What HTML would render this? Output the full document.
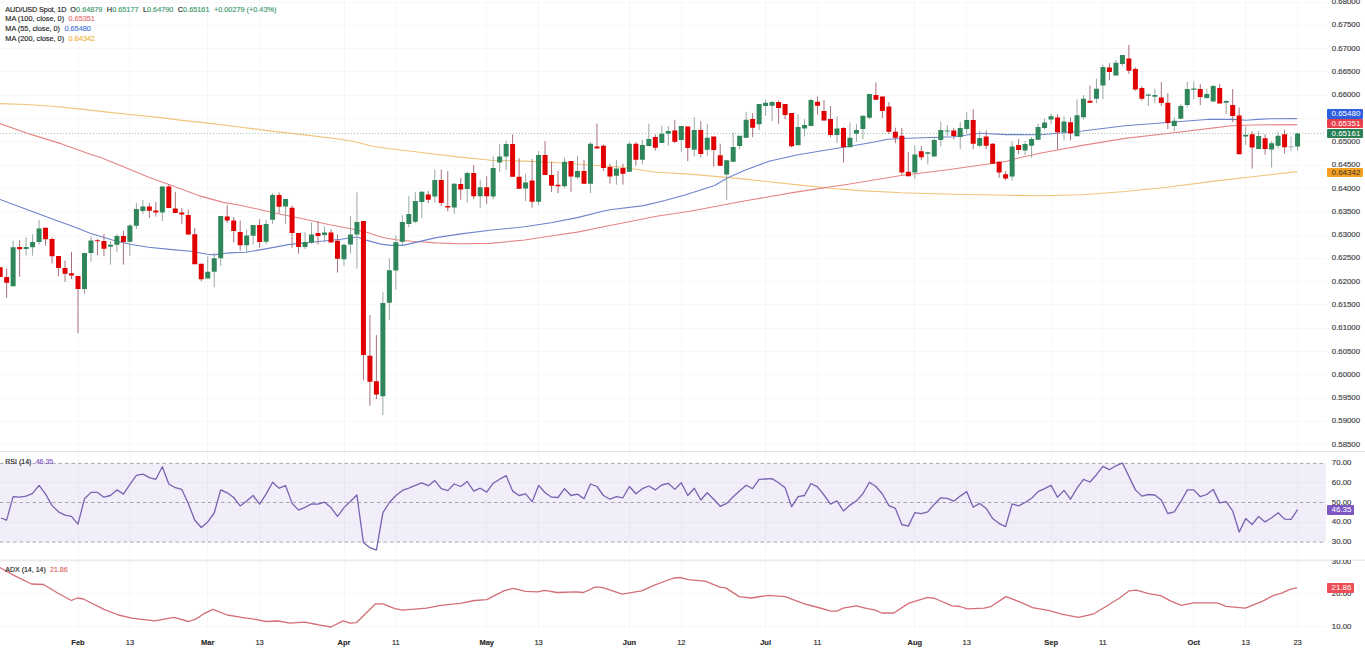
<!DOCTYPE html>
<html><head><meta charset="utf-8"><style>
html,body{margin:0;padding:0;background:#fff;width:1365px;height:649px;overflow:hidden;}
body{position:relative;font-family:'Liberation Sans',sans-serif;}
.pl{position:absolute;left:1331.8px;font-size:7.8px;line-height:10px;color:#454545;-webkit-text-stroke:0.18px #454545;white-space:nowrap;}
.clip{overflow:hidden;}
.bd{position:absolute;left:1327px;height:9.5px;font-size:8px;line-height:9.5px;text-align:left;padding-left:4.5px;box-sizing:border-box;border-radius:1px;white-space:nowrap;}
.tl{position:absolute;top:637.5px;width:40px;text-align:center;font-size:7.5px;line-height:10px;color:#2a2a2a;-webkit-text-stroke:0.15px #2a2a2a;}
.lg{position:absolute;left:5.3px;font-size:7.3px;line-height:9px;color:#1e1e1e;-webkit-text-stroke:0.15px currentColor;white-space:nowrap;}
.lg span{margin-left:2.4px;}
</style></head><body>
<svg width="1365" height="649" viewBox="0 0 1365 649" style="position:absolute;left:0;top:0">
<path d="M0 444.6H1326M0 421.3H1326M0 398.0H1326M0 374.7H1326M0 351.4H1326M0 328.1H1326M0 304.8H1326M0 281.5H1326M0 258.3H1326M0 235.0H1326M0 211.7H1326M0 188.4H1326M0 165.1H1326M0 141.8H1326M0 118.5H1326M0 95.2H1326M0 71.9H1326M0 48.6H1326M0 25.3H1326M0 2.0H1326M78.0 0V451M78.0 452V558M78.0 560V631M129.9 0V451M129.9 452V558M129.9 560V631M207.7 0V451M207.7 452V558M207.7 560V631M259.6 0V451M259.6 452V558M259.6 560V631M344.0 0V451M344.0 452V558M344.0 560V631M395.9 0V451M395.9 452V558M395.9 560V631M486.7 0V451M486.7 452V558M486.7 560V631M538.6 0V451M538.6 452V558M538.6 560V631M629.4 0V451M629.4 452V558M629.4 560V631M681.3 0V451M681.3 452V558M681.3 560V631M765.6 0V451M765.6 452V558M765.6 560V631M817.5 0V451M817.5 452V558M817.5 560V631M914.8 0V451M914.8 452V558M914.8 560V631M966.7 0V451M966.7 452V558M966.7 560V631M1051.1 0V451M1051.1 452V558M1051.1 560V631M1102.9 0V451M1102.9 452V558M1102.9 560V631M1193.8 0V451M1193.8 452V558M1193.8 560V631M1245.7 0V451M1245.7 452V558M1245.7 560V631M1297.6 0V451M1297.6 452V558M1297.6 560V631M0 561.1H1326M0 593.7H1326M0 626.3H1326M0 482.8H1326M0 522.2H1326" stroke="#f7f7f8" stroke-width="1" fill="none" shape-rendering="crispEdges"/>
<path d="M0 133.5H1326" stroke="#9cc4b0" stroke-width="1" stroke-dasharray="1 2"/>
<path d="M0.0 103.6 L26.4 104.5 L52.8 106.2 L79.2 108.9 L105.5 111.9 L131.9 114.8 L158.3 117.4 L180.0 120.1 L203.7 122.6 L237.4 126.8 L271.1 131.1 L304.8 134.9 L338.5 139.0 L355.3 141.7 L372.2 146.2 L390.0 148.8 L423.7 152.7 L457.4 156.9 L491.1 160.3 L524.8 161.1 L558.5 162.8 L592.2 165.3 L620.0 167.0 L656.5 172.2 L690.0 174.1 L742.7 178.9 L795.5 184.6 L830.0 188.2 L860.0 190.6 L901.0 192.8 L953.7 194.3 L1006.5 195.2 L1040.0 195.8 L1082.5 194.7 L1125.0 191.5 L1167.5 187.3 L1210.0 181.6 L1252.5 176.7 L1297.0 171.6" stroke="#f0c47a" stroke-width="1.1" fill="none" stroke-linejoin="round" opacity="1"/>
<path d="M0.0 123.6 L30.8 134.4 L61.7 143.9 L92.5 155.0 L100.0 157.2 L124.7 167.3 L149.3 177.4 L169.0 184.5 L198.6 195.6 L223.3 202.4 L240.0 205.3 L254.7 208.5 L279.3 214.0 L304.0 219.0 L328.6 224.5 L353.3 229.2 L366.0 232.1 L380.8 237.0 L395.6 239.7 L411.6 241.3 L436.3 242.9 L461.0 243.8 L490.0 243.4 L524.6 240.0 L551.0 236.0 L577.3 232.1 L603.7 226.8 L630.1 221.5 L656.5 216.3 L690.0 211.3 L742.7 201.3 L795.5 192.1 L848.2 184.2 L901.0 175.5 L947.9 169.7 L990.0 163.8 L1006.9 161.3 L1015.3 158.7 L1040.0 153.3 L1082.5 145.4 L1125.0 138.4 L1167.5 133.5 L1210.0 128.4 L1231.2 125.7 L1252.5 125.0 L1297.0 124.6" stroke="#e68585" stroke-width="1.1" fill="none" stroke-linejoin="round" opacity="1"/>
<path d="M0.0 199.5 L26.2 209.2 L52.4 218.9 L78.6 228.6 L90.0 233.2 L101.7 236.7 L113.4 240.2 L129.9 244.3 L148.6 247.2 L172.1 249.6 L190.8 251.3 L207.2 254.3 L214.3 254.9 L222.5 253.5 L230.0 252.9 L246.0 252.3 L267.0 248.6 L288.2 244.6 L316.3 241.8 L341.0 239.3 L357.0 237.0 L366.0 240.1 L380.8 244.1 L390.7 245.4 L403.0 245.4 L417.8 241.9 L436.3 237.6 L461.0 233.9 L490.0 230.2 L524.6 226.8 L551.0 222.8 L577.3 217.6 L603.7 211.0 L610.0 209.8 L643.7 205.6 L665.0 200.5 L685.8 194.7 L714.5 185.4 L727.9 177.8 L744.8 170.2 L769.1 161.2 L795.5 155.2 L821.9 150.7 L848.2 146.5 L874.6 142.0 L887.8 139.3 L901.0 138.5 L953.7 136.7 L980.1 133.3 L1006.5 134.6 L1040.0 134.8 L1082.5 131.0 L1125.0 125.7 L1167.5 122.5 L1210.0 119.3 L1232.2 119.4 L1246.3 120.3 L1258.0 119.4 L1270.9 118.8 L1297.0 118.6" stroke="#6d84cc" stroke-width="1.1" fill="none" stroke-linejoin="round" opacity="1"/>
<path d="M1291.07 136.4V151.4" stroke="#b4bcc6" stroke-width="1"/><path d="M1288.57 146.2h5v1.2h-5z" fill="#a9b4c0"/>
<path d="M0.16 267.2V276.9M6.64 268.3V297.9M19.62 240.2V276.9M45.56 227.7V245.5M52.05 237.4V263.5M58.54 256.0V276.2M65.03 260.5V281.7M71.51 251.9V279.0M78.00 276.0V333.2M97.46 239.1V255.2M103.95 234.1V256.2M123.41 230.7V264.6M149.36 203.1V218.1M155.84 202.1V216.5M168.82 184.0V208.1M175.31 192.0V213.1M181.79 208.1V223.7M188.28 209.7V234.5M194.77 228.1V264.2M201.25 263.8V281.2M227.20 205.1V223.1M233.69 217.1V242.5M240.18 220.5V250.6M259.64 219.1V247.8M279.10 192.4V213.1M292.07 205.7V247.7M298.56 233.1V253.7M318.02 221.1V244.5M330.99 229.1V242.5M337.48 234.5V272.6M363.43 221.1V380.2M369.92 315.0V405.8M376.40 335.1V399.2M428.30 191.1V203.1M441.27 169.6V205.7M447.76 171.0V211.1M460.73 178.1V199.7M473.71 165.0V199.1M486.68 176.1V203.8M512.63 134.4V176.7M519.12 158.1V188.8M532.09 159.1V207.8M545.06 141.1V175.1M551.55 161.7V192.2M558.04 171.1V193.2M571.01 161.1V191.8M583.99 160.1V183.8M596.96 123.6V148.5M603.45 144.5V171.1M609.93 163.7V183.8M622.91 163.7V184.6M635.88 142.1V165.7M655.34 134.5V150.5M674.80 120.1V143.1M687.78 126.5V161.2M700.75 121.1V157.2M713.73 136.5V166.6M720.21 143.7V165.8M752.65 113.1V137.1M778.60 100.5V123.7M785.08 104.1V119.1M791.57 113.1V147.2M817.52 96.5V114.5M824.00 100.1V120.5M830.49 106.1V137.1M843.47 127.1V162.6M875.90 82.4V99.7M882.39 96.5V118.1M888.88 102.1V134.1M895.36 127.7V143.1M901.85 128.1V175.2M908.34 152.2V176.2M921.31 146.2V160.2M953.75 128.1V139.4M973.21 109.1V149.1M986.18 130.5V149.1M992.67 143.1V163.8M999.15 161.2V177.8M1005.64 171.2V180.2M1018.62 139.1V154.1M1057.54 114.2V149.6M1070.51 117.6V140.2M1089.97 85.5V102.7M1109.43 63.1V80.1M1128.89 45.0V74.1M1135.38 67.5V90.7M1141.87 86.1V100.7M1161.33 82.0V106.1M1167.82 93.1V129.1M1200.25 84.0V105.1M1219.71 84.0V103.5M1232.69 89.0V122.1M1239.17 107.8V154.2M1252.15 131.4V168.7M1265.12 134.3V154.7M1284.58 129.7V153.5" stroke="#a8707c" stroke-width="1" fill="none"/>
<path d="M13.13 240.8V286.2M26.10 237.0V255.6M32.59 234.3V255.6M39.08 220.0V244.5M84.49 252.9V294.0M90.97 236.2V261.6M110.44 241.1V264.6M116.92 234.1V252.2M129.90 224.1V255.8M136.38 203.1V229.1M142.87 200.1V214.1M162.33 186.4V221.1M207.74 256.2V278.6M214.23 252.6V287.2M220.71 216.1V265.8M246.66 229.7V252.6M253.15 225.1V244.5M266.12 219.7V244.5M272.61 193.0V224.1M285.58 199.1V224.1M305.05 232.1V249.1M311.53 222.5V243.7M324.51 226.5V242.5M343.97 243.7V265.8M350.45 216.1V253.7M356.94 192.4V268.6M382.89 292.0V415.2M389.38 258.3V320.3M395.86 235.4V289.8M402.35 215.1V245.2M408.84 196.1V227.2M415.32 192.1V223.1M421.81 191.1V218.1M434.79 169.6V202.5M454.25 183.1V214.1M467.22 171.6V202.5M480.19 179.7V208.2M493.17 156.5V199.2M499.66 144.1V171.7M506.14 140.5V170.1M525.60 173.7V201.2M538.58 151.1V205.2M564.53 157.7V188.2M577.50 155.7V179.2M590.47 142.1V193.2M616.42 160.1V184.6M629.39 141.7V171.7M642.37 139.7V164.5M648.86 123.6V146.5M661.83 125.7V143.1M668.32 125.9V145.7M681.29 126.1V151.7M694.26 117.1V156.6M707.24 123.7V155.8M726.70 159.8V200.2M733.19 132.5V161.8M739.67 135.7V149.1M746.16 111.7V137.7M759.13 104.0V130.1M765.62 99.7V115.7M772.11 101.1V121.1M798.06 114.5V145.2M804.54 119.1V136.5M811.03 98.5V126.1M836.98 116.1V143.1M849.95 122.5V147.2M856.44 123.7V141.7M862.93 115.7V139.1M869.41 94.0V119.1M914.82 145.2V179.2M927.80 151.8V164.2M934.28 138.1V156.6M940.77 121.7V146.2M947.26 125.0V136.0M960.23 122.1V149.1M966.72 112.1V133.7M979.69 131.1V147.1M1012.13 141.1V180.6M1025.10 141.1V155.2M1031.59 137.1V157.8M1038.08 123.7V139.7M1044.56 118.5V129.7M1051.05 113.6V124.2M1064.02 116.2V140.2M1077.00 99.5V136.2M1083.49 95.1V119.2M1096.46 78.7V103.1M1102.95 64.7V99.1M1115.92 60.1V75.5M1122.41 55.0V66.1M1148.36 93.5V106.1M1154.84 88.6V103.1M1174.30 117.5V131.1M1180.79 104.1V118.7M1187.28 82.0V107.1M1193.76 81.4V99.1M1206.74 88.6V98.7M1213.22 85.0V101.5M1226.20 100.1V114.1M1245.66 126.4V145.0M1258.63 130.9V148.9M1271.61 141.1V167.5M1278.10 131.4V148.4M1297.56 132.7V150.7" stroke="#98a8a2" stroke-width="1" fill="none"/>
<path d="M-2.34 267.2h5v9.7h-5zM4.14 276.9h5v5.9h-5zM17.12 247.0h5v2.2h-5zM43.06 227.7h5v11.5h-5zM49.55 239.0h5v17.3h-5zM56.04 256.0h5v12.1h-5zM62.53 268.1h5v5.6h-5zM69.01 273.2h5v2.3h-5zM75.50 276.0h5v12.9h-5zM94.96 240.2h5v1.0h-5zM101.45 241.1h5v7.7h-5zM120.91 236.1h5v6.0h-5zM146.86 206.5h5v4.2h-5zM153.34 210.5h5v2.0h-5zM166.32 186.4h5v21.7h-5zM172.81 208.5h5v4.6h-5zM179.29 212.5h5v2.0h-5zM185.78 215.1h5v19.4h-5zM192.27 234.3h5v29.9h-5zM198.75 263.8h5v15.4h-5zM224.70 216.5h5v4.0h-5zM231.19 220.5h5v10.6h-5zM237.68 232.1h5v13.1h-5zM257.14 225.1h5v17.0h-5zM276.60 195.0h5v11.7h-5zM289.57 207.7h5v25.4h-5zM296.06 233.1h5v14.0h-5zM315.52 233.1h5v3.0h-5zM328.49 232.5h5v10.0h-5zM334.98 240.7h5v18.1h-5zM360.93 221.1h5v134.0h-5zM367.42 355.7h5v26.1h-5zM373.90 381.2h5v13.4h-5zM425.80 194.5h5v5.2h-5zM438.77 180.1h5v23.0h-5zM445.26 206.1h5v1.4h-5zM458.23 184.1h5v5.4h-5zM471.21 173.0h5v23.2h-5zM484.18 187.2h5v9.0h-5zM510.13 144.1h5v32.6h-5zM516.62 176.7h5v12.1h-5zM529.59 180.5h5v21.3h-5zM542.56 155.1h5v20.0h-5zM549.05 175.1h5v10.7h-5zM555.54 184.7h5v1.5h-5zM568.51 161.1h5v15.5h-5zM581.49 171.1h5v12.7h-5zM594.46 146.5h5v2.0h-5zM600.95 145.7h5v22.4h-5zM607.43 167.1h5v9.5h-5zM620.41 168.1h5v5.6h-5zM633.38 143.7h5v16.0h-5zM652.84 137.1h5v10.6h-5zM672.30 130.5h5v11.2h-5zM685.28 126.5h5v21.6h-5zM698.25 130.1h5v24.0h-5zM711.23 136.5h5v13.6h-5zM717.71 155.2h5v10.6h-5zM750.15 119.1h5v8.6h-5zM776.10 102.1h5v6.0h-5zM782.58 104.1h5v11.0h-5zM789.07 113.1h5v33.1h-5zM815.02 101.7h5v4.0h-5zM821.50 111.1h5v9.4h-5zM827.99 119.1h5v16.0h-5zM840.97 128.1h5v19.1h-5zM873.40 95.0h5v4.7h-5zM879.89 96.5h5v14.6h-5zM886.38 106.5h5v25.2h-5zM892.86 131.7h5v6.0h-5zM899.35 135.7h5v36.9h-5zM905.84 171.8h5v4.4h-5zM918.81 151.2h5v6.0h-5zM951.25 130.5h5v5.6h-5zM970.71 120.1h5v23.6h-5zM983.68 136.5h5v9.2h-5zM990.17 143.7h5v20.1h-5zM996.65 161.8h5v10.8h-5zM1003.14 174.2h5v4.4h-5zM1016.12 145.1h5v5.0h-5zM1055.04 117.6h5v14.6h-5zM1068.01 122.2h5v11.4h-5zM1087.47 100.7h5v2.0h-5zM1106.93 67.5h5v4.6h-5zM1126.39 58.6h5v12.1h-5zM1132.88 69.1h5v20.4h-5zM1139.37 88.1h5v10.6h-5zM1158.83 97.5h5v5.6h-5zM1165.32 102.7h5v20.4h-5zM1197.75 89.0h5v8.1h-5zM1217.21 88.0h5v15.5h-5zM1230.19 105.1h5v11.0h-5zM1236.67 115.6h5v38.6h-5zM1249.65 134.3h5v13.2h-5zM1262.62 138.2h5v10.7h-5zM1282.08 134.3h5v12.9h-5z" fill="#e00000"/>
<path d="M10.63 247.2h5v39.0h-5zM23.60 247.0h5v2.0h-5zM30.09 242.0h5v5.2h-5zM36.58 228.4h5v13.6h-5zM81.99 252.9h5v36.0h-5zM88.47 240.4h5v12.5h-5zM107.94 244.7h5v2.1h-5zM114.42 236.1h5v8.6h-5zM127.40 225.5h5v16.2h-5zM133.88 209.1h5v16.6h-5zM140.37 206.5h5v4.6h-5zM159.83 186.4h5v26.1h-5zM205.24 271.8h5v6.8h-5zM211.73 258.2h5v13.6h-5zM218.21 216.1h5v42.1h-5zM244.16 235.5h5v9.7h-5zM250.65 225.1h5v10.6h-5zM263.62 224.1h5v17.6h-5zM270.11 195.0h5v24.7h-5zM283.08 199.1h5v7.3h-5zM302.55 242.1h5v5.0h-5zM309.03 234.5h5v8.0h-5zM322.01 232.5h5v2.4h-5zM341.47 244.7h5v14.5h-5zM347.95 234.5h5v10.0h-5zM354.44 222.1h5v12.4h-5zM380.39 303.0h5v93.2h-5zM386.88 270.2h5v32.5h-5zM393.36 242.3h5v28.3h-5zM399.85 222.1h5v19.7h-5zM406.34 214.1h5v10.0h-5zM412.82 201.1h5v20.6h-5zM419.31 191.7h5v10.4h-5zM432.29 180.1h5v16.4h-5zM451.75 183.7h5v23.8h-5zM464.72 173.0h5v16.1h-5zM477.69 187.2h5v9.0h-5zM490.67 168.1h5v28.5h-5zM497.16 156.5h5v6.0h-5zM503.64 144.1h5v12.4h-5zM523.10 182.5h5v6.1h-5zM536.08 155.1h5v46.7h-5zM562.03 161.7h5v24.5h-5zM575.00 171.1h5v6.1h-5zM587.97 143.7h5v40.1h-5zM613.92 168.5h5v7.3h-5zM626.89 143.7h5v28.0h-5zM639.87 145.1h5v14.6h-5zM646.36 139.1h5v7.0h-5zM659.33 133.7h5v9.4h-5zM665.82 131.1h5v2.6h-5zM678.79 126.1h5v14.0h-5zM691.76 130.1h5v19.6h-5zM704.74 137.7h5v12.0h-5zM724.20 160.2h5v14.4h-5zM730.69 147.1h5v14.7h-5zM737.17 135.7h5v10.4h-5zM743.66 119.7h5v18.0h-5zM756.63 104.0h5v20.3h-5zM763.12 102.7h5v3.4h-5zM769.61 102.1h5v3.6h-5zM795.56 127.1h5v18.1h-5zM802.04 125.1h5v3.4h-5zM808.53 100.1h5v26.0h-5zM834.48 128.5h5v6.6h-5zM847.45 137.7h5v9.5h-5zM853.94 130.1h5v3.6h-5zM860.43 115.7h5v13.4h-5zM866.91 94.0h5v23.7h-5zM912.32 154.6h5v18.0h-5zM925.30 152.2h5v1.6h-5zM931.78 140.1h5v16.5h-5zM938.27 130.1h5v10.0h-5zM944.76 130.6h5v1.0h-5zM957.73 128.1h5v9.0h-5zM964.22 120.1h5v9.0h-5zM977.19 138.1h5v7.6h-5zM1009.63 146.5h5v30.1h-5zM1022.60 144.1h5v6.4h-5zM1029.09 139.1h5v6.6h-5zM1035.58 127.1h5v12.6h-5zM1042.06 122.5h5v5.6h-5zM1048.55 116.2h5v3.4h-5zM1061.52 121.6h5v10.6h-5zM1074.50 115.2h5v21.0h-5zM1080.99 98.7h5v18.5h-5zM1093.96 88.7h5v10.0h-5zM1100.45 67.1h5v18.4h-5zM1113.42 62.7h5v12.8h-5zM1119.91 55.0h5v9.1h-5zM1145.86 94.5h5v1.2h-5zM1152.34 95.1h5v1.6h-5zM1171.80 120.7h5v5.4h-5zM1178.29 106.1h5v12.6h-5zM1184.78 89.0h5v16.1h-5zM1191.26 88.5h5v1.3h-5zM1204.24 94.1h5v4.0h-5zM1210.72 86.0h5v15.5h-5zM1223.70 101.1h5v1.6h-5zM1243.16 134.8h5v1.7h-5zM1256.13 136.0h5v12.9h-5zM1269.11 143.3h5v6.3h-5zM1275.60 135.7h5v10.1h-5zM1295.06 133.5h5v13.1h-5z" fill="#2e865a"/>
<path d="M0 451.5H1365" stroke="#e2e2e2" stroke-width="1"/><path d="M0 560.2H1365" stroke="#ececec" stroke-width="1.4"/>
<rect x="0" y="463.4" width="1326" height="78.70000000000005" fill="rgba(126,87,194,0.105)"/>
<path d="M0 463.4H1326M0 502.5H1326M0 542.1H1326" stroke="#a6a6ae" stroke-width="1" stroke-dasharray="3.5 3" fill="none"/>
<path d="M1.0 518.0 L6.6 520.2 L13.1 496.7 L19.6 497.2 L26.1 496.1 L32.6 493.3 L39.1 485.4 L45.6 494.1 L52.1 505.6 L58.5 511.8 L65.0 515.2 L71.5 516.4 L78.0 524.1 L84.5 498.8 L91.0 492.4 L97.5 492.4 L103.9 497.2 L110.4 495.5 L116.9 489.9 L123.4 494.1 L129.9 484.4 L136.4 475.3 L142.9 474.2 L149.4 477.6 L155.8 479.3 L162.3 466.7 L168.8 484.0 L175.3 487.7 L181.8 489.4 L188.3 503.4 L194.8 520.2 L201.3 527.5 L207.7 521.9 L214.2 513.0 L220.7 489.9 L227.2 492.8 L233.7 497.5 L240.2 505.9 L246.7 500.9 L253.1 495.5 L259.6 504.2 L266.1 494.1 L272.6 482.3 L279.1 488.2 L285.6 485.7 L292.1 503.4 L298.6 510.1 L305.0 507.3 L311.5 503.9 L318.0 504.2 L324.5 502.2 L331.0 507.6 L337.5 516.4 L344.0 507.6 L350.5 501.2 L356.9 495.0 L363.4 542.6 L369.9 547.7 L376.4 550.1 L382.9 512.7 L389.4 502.5 L395.9 495.5 L402.4 490.4 L408.8 488.2 L415.3 485.4 L421.8 482.8 L428.3 485.7 L434.8 480.6 L441.3 488.7 L447.8 490.6 L454.2 484.0 L460.7 486.5 L467.2 481.5 L473.7 491.1 L480.2 488.2 L486.7 492.1 L493.2 483.2 L499.7 479.3 L506.1 475.6 L512.6 491.1 L519.1 495.5 L525.6 493.8 L532.1 501.7 L538.6 485.4 L545.1 492.8 L551.6 497.2 L558.0 497.5 L564.5 488.7 L571.0 495.5 L577.5 494.1 L584.0 498.8 L590.5 484.0 L597.0 486.5 L603.4 495.5 L609.9 499.2 L616.4 496.7 L622.9 497.8 L629.4 486.5 L635.9 493.8 L642.4 488.7 L648.9 486.0 L655.3 489.9 L661.8 485.0 L668.3 483.3 L674.8 489.4 L681.3 482.8 L687.8 495.5 L694.3 488.2 L700.8 500.0 L707.2 492.8 L713.7 499.2 L720.2 506.3 L726.7 503.4 L733.2 496.7 L739.7 490.8 L746.2 485.2 L752.6 488.7 L759.1 479.3 L765.6 479.0 L772.1 478.6 L778.6 482.7 L785.1 487.7 L791.6 506.8 L798.1 496.7 L804.5 495.5 L811.0 483.5 L817.5 486.9 L824.0 495.0 L830.5 504.2 L837.0 500.9 L843.5 511.0 L850.0 505.1 L856.4 500.9 L862.9 493.8 L869.4 482.3 L875.9 486.5 L882.4 494.0 L888.9 505.6 L895.4 508.4 L901.8 524.5 L908.3 526.1 L914.8 512.7 L921.3 513.7 L927.8 511.8 L934.3 504.2 L940.8 497.8 L947.3 498.3 L953.7 501.2 L960.2 496.1 L966.7 491.6 L973.2 507.3 L979.7 503.4 L986.2 508.4 L992.7 518.6 L999.2 523.6 L1005.6 526.6 L1012.1 503.9 L1018.6 505.9 L1025.1 502.5 L1031.6 498.3 L1038.1 491.6 L1044.6 488.7 L1051.1 485.4 L1057.5 497.2 L1064.0 490.4 L1070.5 499.2 L1077.0 488.2 L1083.5 479.3 L1090.0 482.0 L1096.5 474.7 L1102.9 466.3 L1109.4 469.7 L1115.9 465.8 L1122.4 463.0 L1128.9 476.4 L1135.4 489.9 L1141.9 496.1 L1148.4 494.5 L1154.8 495.0 L1161.3 500.0 L1167.8 513.5 L1174.3 511.8 L1180.8 501.7 L1187.3 489.9 L1193.8 489.9 L1200.3 496.7 L1206.7 494.5 L1213.2 489.4 L1219.7 502.9 L1226.2 501.7 L1232.7 511.0 L1239.2 532.0 L1245.7 518.6 L1252.1 524.5 L1258.6 516.4 L1265.1 521.9 L1271.6 517.7 L1278.1 512.7 L1284.6 519.1 L1291.1 519.4 L1297.6 509.6" stroke="#7664b0" stroke-width="1.3" fill="none" stroke-linejoin="round" opacity="1"/>
<path d="M0.0 567.5 L1.2 568.3 L14.5 575.6 L31.4 584.0 L43.5 584.5 L58.0 593.2 L71.3 600.5 L77.4 598.0 L83.4 599.0 L104.0 609.4 L118.5 615.0 L133.0 618.3 L154.7 620.8 L174.0 617.4 L188.6 621.5 L195.8 619.1 L203.1 614.2 L212.8 609.4 L227.3 615.0 L241.8 617.4 L253.9 619.1 L266.0 621.5 L278.0 621.0 L290.1 623.2 L304.6 622.2 L314.3 624.0 L320.0 625.1 L330.9 627.0 L343.0 620.8 L350.2 623.2 L356.3 622.7 L375.6 603.8 L382.9 603.8 L395.0 608.7 L402.2 610.1 L426.4 608.2 L440.9 605.3 L460.2 603.4 L474.7 600.5 L486.8 599.7 L503.8 590.8 L513.4 588.4 L525.5 591.3 L537.6 591.8 L544.9 590.3 L556.9 592.5 L576.3 591.8 L583.5 592.5 L595.6 586.9 L602.9 587.6 L622.2 594.2 L641.6 590.8 L654.5 585.2 L673.8 578.0 L679.9 577.5 L688.4 579.7 L705.3 581.1 L719.8 587.2 L725.8 587.9 L739.1 596.6 L751.2 598.0 L768.1 595.4 L785.1 596.6 L804.4 603.8 L816.5 607.0 L831.0 611.1 L837.0 611.1 L843.1 608.2 L856.4 605.8 L867.3 608.7 L874.5 609.9 L881.8 613.0 L893.9 613.0 L908.4 603.4 L927.7 597.3 L935.0 598.5 L951.9 605.8 L960.0 606.5 L967.3 608.9 L984.2 608.2 L991.4 606.3 L1005.9 596.6 L1020.4 602.1 L1032.5 607.7 L1049.5 610.6 L1061.5 614.2 L1078.5 617.4 L1093.0 614.2 L1105.1 607.0 L1119.6 598.0 L1129.2 590.8 L1136.5 590.1 L1148.6 593.7 L1160.7 595.6 L1170.3 600.9 L1181.2 605.3 L1193.3 602.9 L1213.9 602.9 L1218.7 603.4 L1226.0 606.3 L1245.3 608.2 L1262.2 601.4 L1273.1 595.6 L1281.6 593.2 L1290.0 589.3 L1297.0 587.6" stroke="#d46e78" stroke-width="1.3" fill="none" stroke-linejoin="round" opacity="1"/>
</svg>
<div class="pl" style="top:439.7px">0.58500</div><div class="pl" style="top:416.4px">0.59000</div><div class="pl" style="top:393.1px">0.59500</div><div class="pl" style="top:369.8px">0.60000</div><div class="pl" style="top:346.5px">0.60500</div><div class="pl" style="top:323.2px">0.61000</div><div class="pl" style="top:299.9px">0.61500</div><div class="pl" style="top:276.6px">0.62000</div><div class="pl" style="top:253.4px">0.62500</div><div class="pl" style="top:230.1px">0.63000</div><div class="pl" style="top:206.8px">0.63500</div><div class="pl" style="top:183.5px">0.64000</div><div class="pl" style="top:160.2px">0.64500</div><div class="pl" style="top:136.9px">0.65000</div><div class="pl" style="top:90.3px">0.66000</div><div class="pl" style="top:67.0px">0.66500</div><div class="pl" style="top:43.7px">0.67000</div><div class="pl" style="top:20.4px">0.67500</div><div class="pl" style="top:-2.9px">0.68000</div><div class="pl" style="top:458.0px">70.00</div><div class="pl" style="top:477.8px">60.00</div><div class="pl" style="top:497.5px">50.00</div><div class="pl" style="top:517.2px">40.00</div><div class="pl" style="top:537.0px">30.00</div><div class="pl" style="top:589.3px">20.00</div><div class="pl" style="top:621.9px">10.00</div><div class="pl clip" style="top:559.5px;height:8px"><span style="position:relative;top:-2.7px">30.00</span></div>
<div class="bd" style="top:109.2px;width:35.5px;height:9.5px;line-height:9.5px;background:#2f5fe0;color:#fff">0.65480</div><div class="bd" style="top:118.7px;width:35.5px;height:9.5px;line-height:9.5px;background:#e8404a;color:#fff">0.65351</div><div class="bd" style="top:128.6px;width:35.5px;height:9.5px;line-height:9.5px;background:#2a8055;color:#fff">0.65161</div><div class="bd" style="top:167.7px;width:35.5px;height:9.5px;line-height:9.5px;background:#f5a020;color:#333">0.64342</div><div class="bd" style="top:504.9px;width:27px;height:9.9px;line-height:9.9px;background:#7e57c2;color:#fff">46.35</div><div class="bd" style="top:583.3px;width:27px;height:9.9px;line-height:9.9px;background:#ef4d55;color:#fff">21.86</div>
<div class="tl" style="left:58.0px;font-weight:bold;">Feb</div><div class="tl" style="left:109.9px;">13</div><div class="tl" style="left:187.7px;font-weight:bold;">Mar</div><div class="tl" style="left:239.6px;">13</div><div class="tl" style="left:324.0px;font-weight:bold;">Apr</div><div class="tl" style="left:375.9px;">11</div><div class="tl" style="left:466.7px;font-weight:bold;">May</div><div class="tl" style="left:518.6px;">13</div><div class="tl" style="left:609.4px;font-weight:bold;">Jun</div><div class="tl" style="left:661.3px;">12</div><div class="tl" style="left:745.6px;font-weight:bold;">Jul</div><div class="tl" style="left:797.5px;">11</div><div class="tl" style="left:894.8px;font-weight:bold;">Aug</div><div class="tl" style="left:946.7px;">13</div><div class="tl" style="left:1031.1px;font-weight:bold;">Sep</div><div class="tl" style="left:1082.9px;">11</div><div class="tl" style="left:1173.8px;font-weight:bold;">Oct</div><div class="tl" style="left:1225.7px;">13</div><div class="tl" style="left:1277.6px;">23</div>
<div class="lg" style="top:4.5px"><span style="margin:0;letter-spacing:-0.14px">AUD/USD Spot, 1D</span> <span style="margin-left:2px">O<b style="font-weight:normal;color:#3d9a6c">0.64879</b></span> <span>H<b style="font-weight:normal;color:#3d9a6c">0.65177</b></span> <span>L<b style="font-weight:normal;color:#3d9a6c">0.64790</b></span> <span>C<b style="font-weight:normal;color:#3d9a6c">0.65161</b></span> <span style="color:#3d9a6c">+0.00279 (+0.43%)</span></div>
<div class="lg" style="top:14px">MA (100, close, 0) <span style="color:#e57373">0.65351</span></div>
<div class="lg" style="top:23.7px">MA (55, close, 0) <span style="color:#4a74db">0.65480</span></div>
<div class="lg" style="top:34.1px">MA (200, close, 0) <span style="color:#f0b440">0.64342</span></div>
<div class="lg" style="top:456.7px;font-size:7px">RSI (14) <span style="color:#7e57c2">46.35</span></div>
<div class="lg" style="top:564.5px;font-size:7px">ADX (14, 14) <span style="color:#e06666">21.86</span></div>
</body></html>
